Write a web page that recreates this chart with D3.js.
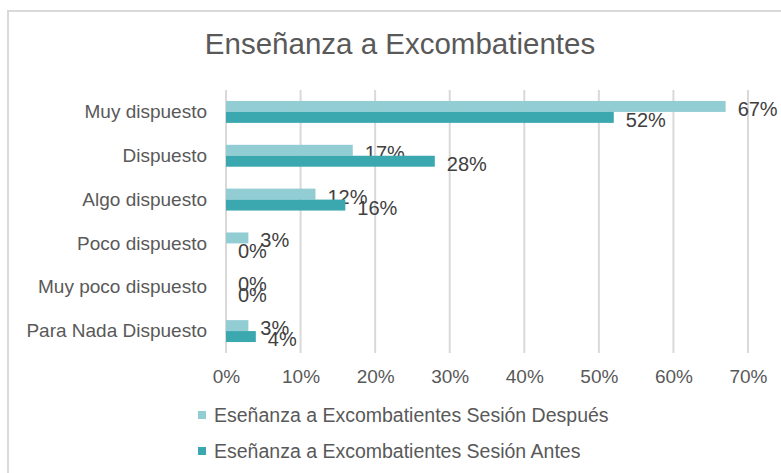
<!DOCTYPE html>
<html lang="es">
  <head>
    <script src="https://d3js.org/d3.v7.min.js"></script>
    <meta charset="utf-8">
    <title>Enseñanza a Excombatientes</title>
    <style>
      body { margin: 0; background: #fff; }
      text { font-family: "Liberation Sans", Arial, sans-serif; }
    </style>
  </head>
  <body>
    <svg id="chart"></svg>

    <script type="text/javascript">

     var categories = ["Muy dispuesto", "Dispuesto", "Algo dispuesto", "Poco dispuesto", "Muy poco dispuesto", "Para Nada Dispuesto"];
     var despues = [0.67, 0.17, 0.12, 0.03, 0.00, 0.03];
     var antes = [0.52, 0.28, 0.16, 0.00, 0.00, 0.04];
     var seriesNames = ["Eseñanza a Excombatientes Sesión Después", "Eseñanza a Excombatientes Sesión Antes"];
     var ticks = [0, 0.1, 0.2, 0.3, 0.4, 0.5, 0.6, 0.7];

     var width = 781;
     var height = 473;
     var colors = ["#93cdd4", "#3ba7af"];

     var svg = d3.select("#chart")
       .attr("width", width)
       .attr("height", height);

     // chart area border
     svg.append("rect")
       .attr("x", 8)
       .attr("y", 11)
       .attr("width", 790)
       .attr("height", 480)
       .attr("fill", "white")
       .attr("stroke", "#d9d9d9")
       .attr("stroke-width", 2);

     svg.append("text")
       .attr("x", 400)
       .attr("y", 54)
       .attr("text-anchor", "middle")
       .attr("font-size", "29.5px")
       .attr("fill", "#595959")
       .text("Enseñanza a Excombatientes");

     var x = d3.scaleLinear().domain([0, 0.7]).range([226, 748]);
     var y = d3.scaleBand().domain(categories).range([90, 353])
       .paddingInner(0.5).paddingOuter(0.25);
     var sub = d3.scaleBand().domain([0, 1]).range([0, y.bandwidth()]);

     // gridlines
     svg.append("g")
       .selectAll("line")
       .data(ticks)
       .enter()
       .append("line")
       .attr("x1", function(d) { return x(d); })
       .attr("x2", function(d) { return x(d); })
       .attr("y1", 90)
       .attr("y2", 353)
       .attr("stroke", "#d9d9d9")
       .attr("stroke-width", 2);

     // x axis labels
     var xAxis = svg.append("g")
       .attr("transform", "translate(0,366)")
       .call(d3.axisBottom(x).tickValues(ticks).tickFormat(d3.format(".0%")).tickSize(0));
     xAxis.select(".domain").remove();
     xAxis.selectAll("text")
       .attr("font-size", "19px")
       .attr("font-family", "Liberation Sans, Arial, sans-serif")
       .attr("fill", "#595959");

     // y axis labels
     var yAxis = svg.append("g")
       .attr("transform", "translate(210,0)")
       .call(d3.axisLeft(y).tickSize(0));
     yAxis.select(".domain").remove();
     yAxis.selectAll("text")
       .attr("font-size", "19px")
       .attr("font-family", "Liberation Sans, Arial, sans-serif")
       .attr("fill", "#595959");

     var series = [despues, antes];

     series.forEach(function(values, s) {
       var g = svg.append("g");
       g.selectAll("rect")
         .data(values)
         .enter()
         .append("rect")
         .attr("x", x(0))
         .attr("y", function(d, i) { return y(categories[i]) + sub(s); })
         .attr("width", function(d) { return x(d) - x(0); })
         .attr("height", sub.bandwidth())
         .attr("fill", colors[s]);

       g.selectAll("text")
         .data(values)
         .enter()
         .append("text")
         .attr("x", function(d) { return x(d) + 12; })
         .attr("y", function(d, i) { return y(categories[i]) + sub(s) + sub.bandwidth() / 2 + 2.5; })
         .attr("dy", "0.35em")
         .attr("font-size", "20px")
         .attr("fill", "#404040")
         .text(function(d) { return d3.format(".0%")(d); });
     });

     // legend
     var legend = svg.append("g")
       .selectAll("g")
       .data(seriesNames)
       .enter()
       .append("g")
       .attr("transform", function(d, i) { return "translate(198," + (415 + i * 36) + ")"; });

     legend.append("rect")
       .attr("x", 0)
       .attr("y", -4)
       .attr("width", 8)
       .attr("height", 8)
       .attr("fill", function(d, i) { return colors[i]; });

     legend.append("text")
       .attr("x", 16)
       .attr("y", 0)
       .attr("dy", "0.35em")
       .attr("font-size", "19.5px")
       .attr("fill", "#595959")
       .text(function(d) { return d; });

    </script>
  </body>
</html>
